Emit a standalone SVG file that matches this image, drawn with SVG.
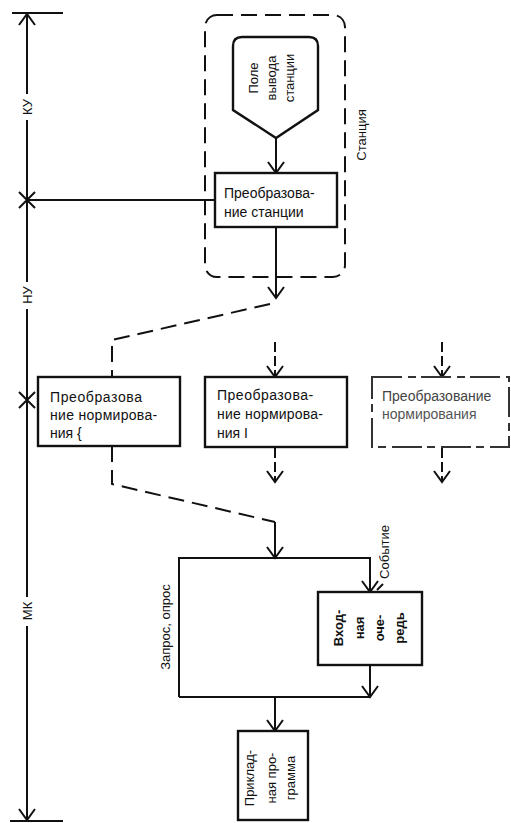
<svg xmlns="http://www.w3.org/2000/svg" width="511" height="823" viewBox="0 0 511 823">
<style>
.ln{stroke:#111;stroke-width:2;fill:none}
.ds{stroke:#111;stroke-width:2;fill:none;stroke-dasharray:16,8}
.bx{stroke:#111;stroke-width:2.4;fill:#fff}
.t{font-family:"Liberation Sans",Arial,sans-serif;font-size:14px;fill:#111}
.v{font-family:"Liberation Sans",Arial,sans-serif;font-size:13px;fill:#111}
</style>
<defs>
<marker id="ar" viewBox="-13 -10 15 20" refX="0" refY="0" markerWidth="15" markerHeight="20" markerUnits="userSpaceOnUse" orient="auto-start-reverse">
<path d="M-11,-8 L0,0 L-11,8" fill="none" stroke="#111" stroke-width="2"/>
</marker>
</defs>
<rect width="511" height="823" fill="#fff"/>

<g id="connectors">
<line class="ln" x1="27" y1="14" x2="27" y2="820" marker-start="url(#ar)" marker-end="url(#ar)"/>
<line class="ln" x1="12" y1="13" x2="63" y2="13"/>
<line class="ln" x1="10" y1="821" x2="63" y2="821"/>
<path class="ln" d="M19,192 L35,208 M35,192 L19,208"/>
<path class="ln" d="M19,392 L35,408 M35,392 L19,408"/>
<line class="ln" x1="27" y1="200" x2="215" y2="200"/>
<line class="ln" x1="276" y1="138" x2="276" y2="173" marker-end="url(#ar)"/>
<line class="ln" x1="276" y1="227" x2="276" y2="298" marker-end="url(#ar)"/>
<path class="ds" d="M270,304 L112,340 L112,377"/>
<line class="ln" x1="275" y1="342" x2="275" y2="377" stroke-dasharray="10,4" marker-end="url(#ar)"/>
<line class="ln" x1="275" y1="448" x2="275" y2="482" stroke-dasharray="10,4" marker-end="url(#ar)"/>
<line class="ln" x1="442" y1="342" x2="442" y2="377" stroke-dasharray="10,4" marker-end="url(#ar)"/>
<line class="ln" x1="442" y1="448" x2="442" y2="482" stroke-dasharray="10,4" marker-end="url(#ar)"/>
<path class="ds" d="M112,446 L112,484 L275,522"/>
<line class="ln" x1="275" y1="522" x2="275" y2="558" marker-end="url(#ar)"/>
<path class="ln" d="M179,697 L179,558 L370,558 L370,592" marker-end="url(#ar)"/>
<line class="ln" x1="370" y1="665" x2="370" y2="697" marker-end="url(#ar)"/>
<line class="ln" x1="179" y1="697" x2="370" y2="697"/>
<line class="ln" x1="275" y1="697" x2="275" y2="731" marker-end="url(#ar)"/>
<line class="ln" x1="377" y1="590" x2="383" y2="584" stroke-width="1.5"/>
</g>

<g id="axis-labels">
<rect x="19" y="94" width="16" height="26" fill="#fff"/>
<text class="v" transform="translate(32,107) rotate(-90)" text-anchor="middle">КУ</text>
<rect x="19" y="282" width="16" height="27" fill="#fff"/>
<text class="v" transform="translate(32,295) rotate(-90)" text-anchor="middle">НУ</text>
<rect x="19" y="597" width="16" height="29" fill="#fff"/>
<text class="v" transform="translate(32,611) rotate(-90)" text-anchor="middle">МК</text>
</g>

<g id="station">
<rect x="205" y="15" width="140" height="262" rx="12" class="ds"/>
<text class="v" transform="translate(366,135) rotate(-90)" text-anchor="middle">Станция</text>
</g>

<g id="station-output">
<path class="bx" d="M233,46 Q233,37 242,37 L309,37 Q318,37 318,46 L318,110 L276,138 L233,110 Z"/>
<text class="v" text-anchor="middle" transform="translate(258,78) rotate(-90)">Поле</text>
<text class="v" text-anchor="middle" transform="translate(276,78) rotate(-90)">вывода</text>
<text class="v" text-anchor="middle" transform="translate(294,78) rotate(-90)">станции</text>
</g>

<g id="station-transform">
<rect class="bx" x="215" y="173" width="122" height="54"/>
<text class="t" x="224" y="198">Преобразова-</text>
<text class="t" x="224" y="217">ние станции</text>
</g>

<g id="norm-1">
<rect class="bx" x="38" y="377" width="142" height="69"/>
<text class="t" x="50" y="402" letter-spacing="0.6">Преобразова</text>
<text class="t" x="50" y="420" letter-spacing="0.3">ние нормирова-</text>
<text class="t" x="50" y="438">ния {</text>
</g>

<g id="norm-2">
<rect class="bx" x="205" y="377" width="142" height="70"/>
<text class="t" x="217" y="400" letter-spacing="0.5">Преобразова-</text>
<text class="t" x="217" y="419" letter-spacing="0.2">ние нормирова-</text>
<text class="t" x="217" y="438">ния I</text>
</g>

<g id="norm-3">
<rect x="372" y="377" width="137" height="70" fill="#fff" stroke="#333" stroke-width="2" stroke-dasharray="30,6,8,5"/>
<text class="t" x="382" y="401" fill="#444" style="fill:#444">Преобразование</text>
<text class="t" x="382" y="419" style="fill:#555">нормирования</text>
</g>

<g id="queue">
<rect class="bx" x="318" y="592" width="104" height="73"/>
<text class="v" text-anchor="middle" style="font-weight:bold" transform="translate(343,628) rotate(-90)">Вход-</text>
<text class="v" text-anchor="middle" style="font-weight:bold" transform="translate(364,628) rotate(-90)">ная</text>
<text class="v" text-anchor="middle" style="font-weight:bold" transform="translate(384,628) rotate(-90)">оче-</text>
<text class="v" text-anchor="middle" style="font-weight:bold" transform="translate(404,628) rotate(-90)">редь</text>
</g>

<g id="labels">
<text class="v" text-anchor="middle" transform="translate(389,552) rotate(-90)">Событие</text>
<text class="v" text-anchor="middle" transform="translate(170,627) rotate(-90)">Запрос, опрос</text>
</g>

<g id="application">
<rect class="bx" x="238" y="731" width="70" height="89"/>
<text class="v" text-anchor="middle" transform="translate(254,778) rotate(-90)">Приклад-</text>
<text class="v" text-anchor="middle" transform="translate(276,778) rotate(-90)">ная про-</text>
<text class="v" text-anchor="middle" transform="translate(295,778) rotate(-90)">грамма</text>
</g>
</svg>
